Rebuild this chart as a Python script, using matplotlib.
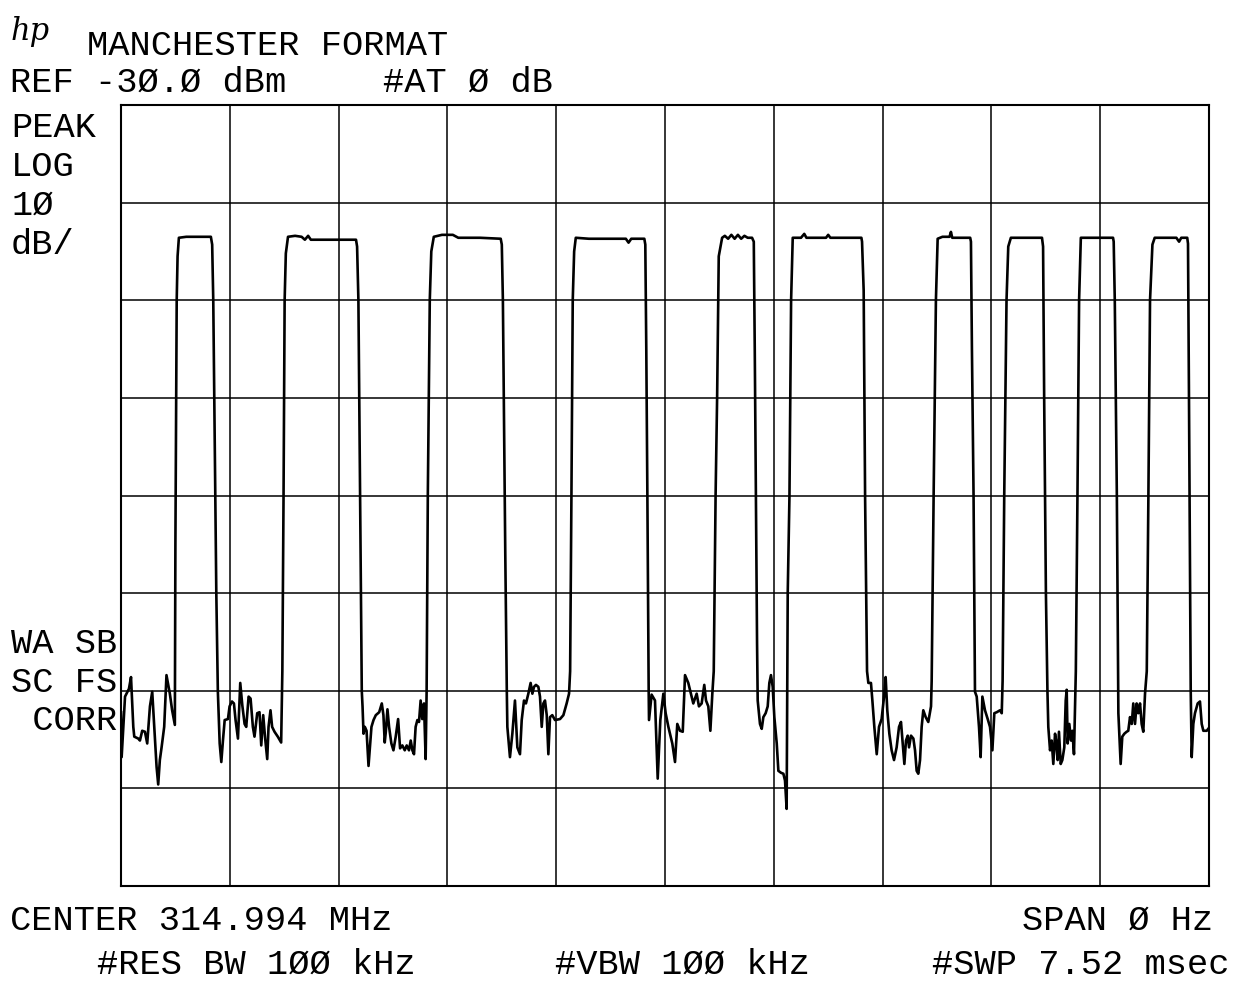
import matplotlib
matplotlib.use("Agg")
import matplotlib.pyplot as plt
import numpy as np

W, H = 1241, 981

# analyzer settings shown on the screen
ref_dbm = -30.0
db_per_div = 10
n_xdiv = 10
n_ydiv = 8

# trace: time in screen divisions (sweep 7.52 ms / 10 div), level in dBm
t_div = [
    # noise before pulse 1
    0.000, 0.006, 0.037, 0.073, 0.092, 0.113, 0.122, 0.159, 0.174, 0.195, 0.220, 0.241,
    0.266, 0.287, 0.305, 0.327, 0.342, 0.357, 0.373, 0.397, 0.418, 0.449, 0.470, 0.495,
    # pulse 1
    0.500, 0.512, 0.520, 0.532, 0.600, 0.700, 0.826, 0.838, 0.848, 0.862, 0.876, 0.890,
    # noise
    0.907, 0.922, 0.937, 0.953, 0.983, 0.998, 1.020, 1.038, 1.053, 1.075, 1.096, 1.115,
    1.136, 1.151, 1.173, 1.191, 1.212, 1.227, 1.252, 1.273, 1.289, 1.307, 1.325, 1.344,
    1.356, 1.374, 1.389, 1.411, 1.441, 1.472,
    # pulse 2
    1.483, 1.494, 1.504, 1.515, 1.535, 1.600, 1.660, 1.690, 1.720, 1.745, 1.900, 2.160,
    2.170, 2.182, 2.190, 2.198, 2.205, 2.213,
    # noise
    2.220, 2.229, 2.241, 2.257, 2.275, 2.290, 2.302, 2.321, 2.342, 2.373, 2.397, 2.412,
    2.424, 2.434, 2.449, 2.464, 2.485, 2.504, 2.525, 2.547, 2.565, 2.586, 2.608, 2.626,
    2.647, 2.663, 2.678, 2.693, 2.708, 2.724, 2.739, 2.754, 2.769, 2.785, 2.800,
    # pulse 3
    2.809, 2.820, 2.838, 2.852, 2.875, 2.950, 3.050, 3.100, 3.300, 3.490, 3.500, 3.510,
    3.520, 3.532, 3.546,
    # noise
    3.551, 3.575, 3.597, 3.621, 3.643, 3.667, 3.683, 3.704, 3.722, 3.744, 3.765, 3.781,
    3.796, 3.814, 3.836, 3.851, 3.867, 3.882, 3.897, 3.913, 3.928, 3.943, 3.964, 3.989,
    4.035, 4.066, 4.096, 4.118,
    # pulse 4
    4.128, 4.140, 4.152, 4.165, 4.180, 4.300, 4.600, 4.640, 4.665, 4.690, 4.810, 4.819,
    4.828, 4.838, 4.850,
    # noise
    4.853, 4.877, 4.908, 4.933, 4.957, 4.985, 5.006, 5.031, 5.067, 5.092, 5.113, 5.138,
    5.163, 5.184, 5.214, 5.245, 5.260, 5.291, 5.312, 5.337, 5.361, 5.377, 5.398, 5.417,
    5.435,
    # pulse 5
    5.448, 5.465, 5.479, 5.494, 5.525, 5.550, 5.580, 5.610, 5.640, 5.670, 5.700, 5.730,
    5.760, 5.800, 5.816, 5.825, 5.835, 5.846,
    # noise
    5.852, 5.873, 5.889, 5.904, 5.925, 5.944, 5.959, 5.974, 5.990, 6.005, 6.027, 6.042,
    6.066, 6.088, 6.103, 6.118,
    # pulse 6
    6.128, 6.144, 6.159, 6.174, 6.250, 6.280, 6.300, 6.480, 6.500, 6.520, 6.805, 6.811,
    6.826, 6.839, 6.857,
    # noise
    6.869, 6.893, 6.906, 6.924, 6.946, 6.967, 6.991, 7.016, 7.028, 7.043, 7.062, 7.083,
    7.105, 7.129, 7.151, 7.169, 7.185, 7.200, 7.215, 7.231, 7.243, 7.261, 7.283, 7.298,
    7.313, 7.328, 7.344, 7.359, 7.374, 7.396, 7.420, 7.445,
    # pulse 7
    7.451, 7.469, 7.490, 7.506, 7.550, 7.615, 7.628, 7.640, 7.805, 7.812, 7.821, 7.836,
    7.849,
    # noise
    7.865, 7.886, 7.901, 7.917, 7.941, 7.966, 7.987, 8.009, 8.027, 8.049, 8.079, 8.095,
    # pulse 8
    8.103, 8.118, 8.139, 8.155, 8.179, 8.465, 8.475, 8.485, 8.501, 8.515,
    # noise
    8.523, 8.539, 8.554, 8.569, 8.585, 8.594, 8.609, 8.621, 8.637, 8.652, 8.670, 8.683,
    8.692, 8.701, 8.716, 8.732, 8.744, 8.759,
    # pulse 9
    8.776, 8.791, 8.806, 8.822, 9.118, 9.124, 9.134, 9.153, 9.165,
    # noise
    9.167, 9.188, 9.203, 9.222, 9.243, 9.258, 9.274, 9.290, 9.304, 9.320, 9.335, 9.350,
    9.366, 9.381, 9.396, 9.412,
    # pulse 10
    9.428, 9.443, 9.458, 9.480, 9.501, 9.700, 9.725, 9.745, 9.800, 9.807, 9.816, 9.832,
    # noise to end of sweep
    9.841, 9.856, 9.871, 9.896, 9.917, 9.933, 9.948, 9.979, 10.000,
]

level_dbm = [
    -92.2, -96.8, -90.6, -89.8, -88.6, -93.7, -94.7, -94.9, -95.1, -94.1, -94.2, -95.4,
    -91.6, -90.1, -93.5, -97.8, -99.6, -97.1, -95.8, -93.7, -88.4, -90.3, -92.0, -93.5,
    -75.0, -50.0, -45.5, -43.6, -43.5, -43.5, -43.5, -44.3, -50.0, -65.0, -80.0, -90.0,
    -95.4, -97.3, -95.1, -93.0, -92.9, -91.6, -91.1, -91.3, -93.0, -94.9, -89.2, -91.5,
    -93.4, -93.7, -90.6, -90.8, -93.7, -94.7, -92.3, -92.2, -95.6, -92.5, -94.9, -97.0,
    -93.7, -92.0, -93.7, -94.2, -94.7, -95.3,
    -88.0, -70.0, -50.0, -45.2, -43.5, -43.4, -43.5, -43.8, -43.4, -43.8, -43.8, -43.8,
    -44.5, -50.0, -60.0, -70.0, -80.0, -90.0,
    -91.6, -94.4, -93.7, -94.1, -97.7, -95.4, -93.7, -93.0, -92.5, -92.2, -91.3, -92.5,
    -95.3, -94.2, -91.9, -93.7, -95.4, -96.1, -94.7, -92.9, -95.9, -95.6, -96.1, -95.6,
    -96.1, -95.1, -96.1, -96.5, -93.7, -93.0, -93.2, -91.0, -92.9, -91.3, -97.0,
    -90.1, -70.0, -50.0, -45.0, -43.5, -43.3, -43.3, -43.6, -43.6, -43.7, -44.3, -50.0,
    -62.0, -76.0, -90.0,
    -93.7, -96.8, -94.4, -91.0, -95.8, -96.5, -93.0, -91.0, -91.3, -90.3, -89.2, -90.3,
    -89.6, -89.4, -89.6, -90.6, -93.7, -91.3, -91.0, -92.5, -96.5, -92.7, -92.5, -93.0,
    -92.9, -92.5, -91.3, -90.3,
    -88.0, -70.0, -50.0, -45.0, -43.6, -43.7, -43.7, -43.7, -44.1, -43.7, -43.7, -44.3,
    -55.0, -70.0, -90.0,
    -93.0, -90.4, -91.0, -99.0, -93.0, -90.3, -92.3, -93.7, -95.4, -97.3, -93.4, -94.1,
    -94.2, -88.4, -89.2, -90.6, -91.3, -90.3, -91.6, -91.3, -89.4, -91.0, -91.6, -94.1,
    -90.3,
    -88.0, -70.0, -60.0, -45.5, -43.6, -43.4, -43.7, -43.3, -43.7, -43.3, -43.7, -43.4,
    -43.6, -43.6, -44.0, -55.0, -70.0, -85.0,
    -91.0, -93.4, -93.9, -92.7, -92.3, -91.6, -89.2, -88.4, -89.6, -92.7, -95.4, -98.2,
    -98.4, -98.5, -99.2, -102.1,
    -80.0, -70.0, -50.0, -43.6, -43.6, -43.2, -43.6, -43.6, -43.3, -43.6, -43.6, -44.0,
    -49.0, -70.0, -88.0,
    -89.2, -89.2, -91.0, -93.7, -96.5, -93.7, -92.9, -90.3, -88.6, -92.0, -94.4, -96.1,
    -97.1, -95.8, -93.7, -93.2, -95.4, -97.5, -95.1, -94.6, -95.8, -94.6, -94.9, -96.1,
    -98.2, -98.5, -97.1, -93.7, -92.0, -92.7, -93.2, -91.6,
    -89.0, -70.0, -50.0, -43.7, -43.5, -43.5, -43.0, -43.6, -43.6, -44.0, -55.0, -70.0,
    -90.1,
    -90.6, -93.7, -96.8, -90.6, -92.0, -92.9, -93.7, -96.1, -92.3, -92.2, -92.0, -92.3,
    -89.0, -70.0, -50.0, -44.5, -43.6, -43.6, -44.5, -60.0, -80.0, -90.0,
    -93.7, -96.1, -95.1, -97.5, -94.4, -95.1, -97.1, -94.2, -97.5, -97.1, -95.8, -91.0,
    -89.9, -95.4, -93.4, -95.1, -94.1, -96.5,
    -88.0, -70.0, -50.0, -43.6, -43.6, -44.0, -50.0, -70.0, -90.0,
    -92.3, -97.5, -94.7, -94.4, -94.2, -94.1, -92.7, -93.4, -91.3, -93.4, -91.3, -92.3,
    -91.3, -93.4, -94.2, -90.3,
    -88.0, -70.0, -50.0, -44.3, -43.6, -43.6, -44.0, -43.6, -43.6, -44.2, -60.0, -90.0,
    -96.8, -93.4, -92.3, -91.3, -91.1, -93.4, -94.1, -94.1, -93.8,
]

header_lines = ["MANCHESTER FORMAT"]
ref_label = "REF -3Ø.Ø dBm"
atten_label = "#AT Ø dB"
left_labels = ["PEAK", "LOG", "1Ø", "dB/"]
status_labels = ["WA SB", "SC FS", " CORR"]
bottom_left = ["CENTER 314.994 MHz", "#RES BW 1ØØ kHz"]
bottom_mid = "#VBW 1ØØ kHz"
bottom_right = ["SPAN Ø Hz", "#SWP 7.52 msec"]

MONO = ["Liberation Mono", "DejaVu Sans Mono"]
FS = 25.5


def put(x, y, s, **kw):
    # x, y in screen pixels (y = text baseline from top)
    opts = dict(family=MONO, fontsize=FS, va="baseline", color="black")
    opts.update(kw)
    fig.text(x / W, 1 - y / H, s, **opts)


fig = plt.figure(figsize=(W / 100, H / 100), dpi=100)
fig.patch.set_facecolor("white")

ax = fig.add_axes([121 / W, 1 - 886 / H, (1209 - 121) / W, (886 - 105) / H])
ax.plot(t_div, level_dbm, color="black", lw=1.9, solid_joinstyle="round", zorder=3)
ax.set_xlim(0, n_xdiv)
ax.set_ylim(ref_dbm - n_ydiv * db_per_div, ref_dbm)
ax.set_xticks(np.arange(0, n_xdiv + 1))
ax.set_yticks(np.arange(ref_dbm - n_ydiv * db_per_div, ref_dbm + 1, db_per_div))
ax.grid(True, color="black", lw=1.1)
ax.tick_params(length=0, labelbottom=False, labelleft=False)
for sp in ax.spines.values():
    sp.set_linewidth(1.5)

# header
put(11, 40, "hp", fontsize=22, family="DejaVu Serif", style="italic")
put(87, 55, header_lines[0])
put(10, 92, ref_label)
put(383, 92, atten_label)

# left annotations
for s, yb in zip(left_labels, [137, 176, 215, 254]):
    put(11, yb, s)
for s, yb in zip(status_labels, [653, 692, 730]):
    put(11, yb, s)

# bottom annotations
put(10, 930, bottom_left[0])
put(97, 974, bottom_left[1])
put(555, 974, bottom_mid)
put(1213, 930, bottom_right[0], ha="right")
put(1229, 974, bottom_right[1], ha="right")

fig.savefig("out.png", dpi=100, facecolor="white")
